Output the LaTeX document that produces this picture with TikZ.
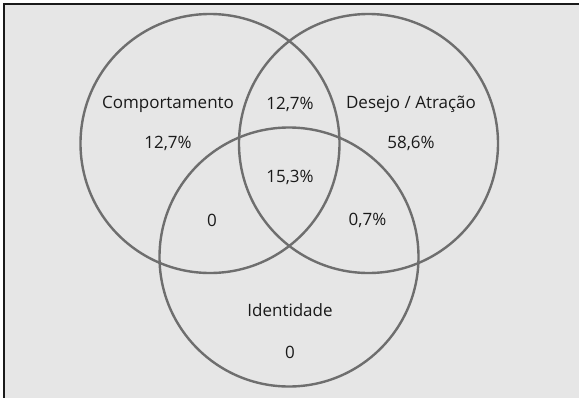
\documentclass[tikz,border=0pt]{standalone}
\usepackage{fontspec}
\setmainfont{Open Sans}
\definecolor{panel}{HTML}{E6E6E6}
\definecolor{ring}{HTML}{6E6E6E}
\definecolor{ink}{HTML}{1A1A1A}

\begin{document}
\begin{tikzpicture}[x=1pt,y=-1pt,
  set/.style={circle,draw=ring,line width=2.4pt,minimum size=259pt,inner sep=0pt},
  lbl/.style={text=ink,font=\fontsize{17}{20}\selectfont,inner sep=0pt}]
\useasboundingbox (0,0) rectangle (579,397);
\draw[draw=ink,line width=1.3pt,fill=panel] (4,4) rectangle (590,410);

\node[set] (comp) at (210,143.5) {};
\node[set] (des)  at (368.5,143.5) {};
\node[set] (iden) at (289,257) {};

\node[lbl] (compname) at (168,104) {Comportamento};
\node[lbl] (compval)  at (168,143) {12,7\%};
\node[lbl] (cdval)    at (290,104) {12,7\%};
\node[lbl] (desname)  at (411,104) {Desejo / Atração};
\node[lbl] (desval)   at (411,143) {58,6\%};
\node[lbl] (allval)   at (290,177) {15,3\%};
\node[lbl] (cival)    at (212,220) {0};
\node[lbl] (dival)    at (367.5,220) {0,7\%};
\node[lbl] (idenname) at (290,310) {Identidade};
\node[lbl] (idenval)  at (290,352) {0};
\end{tikzpicture}
\end{document}
